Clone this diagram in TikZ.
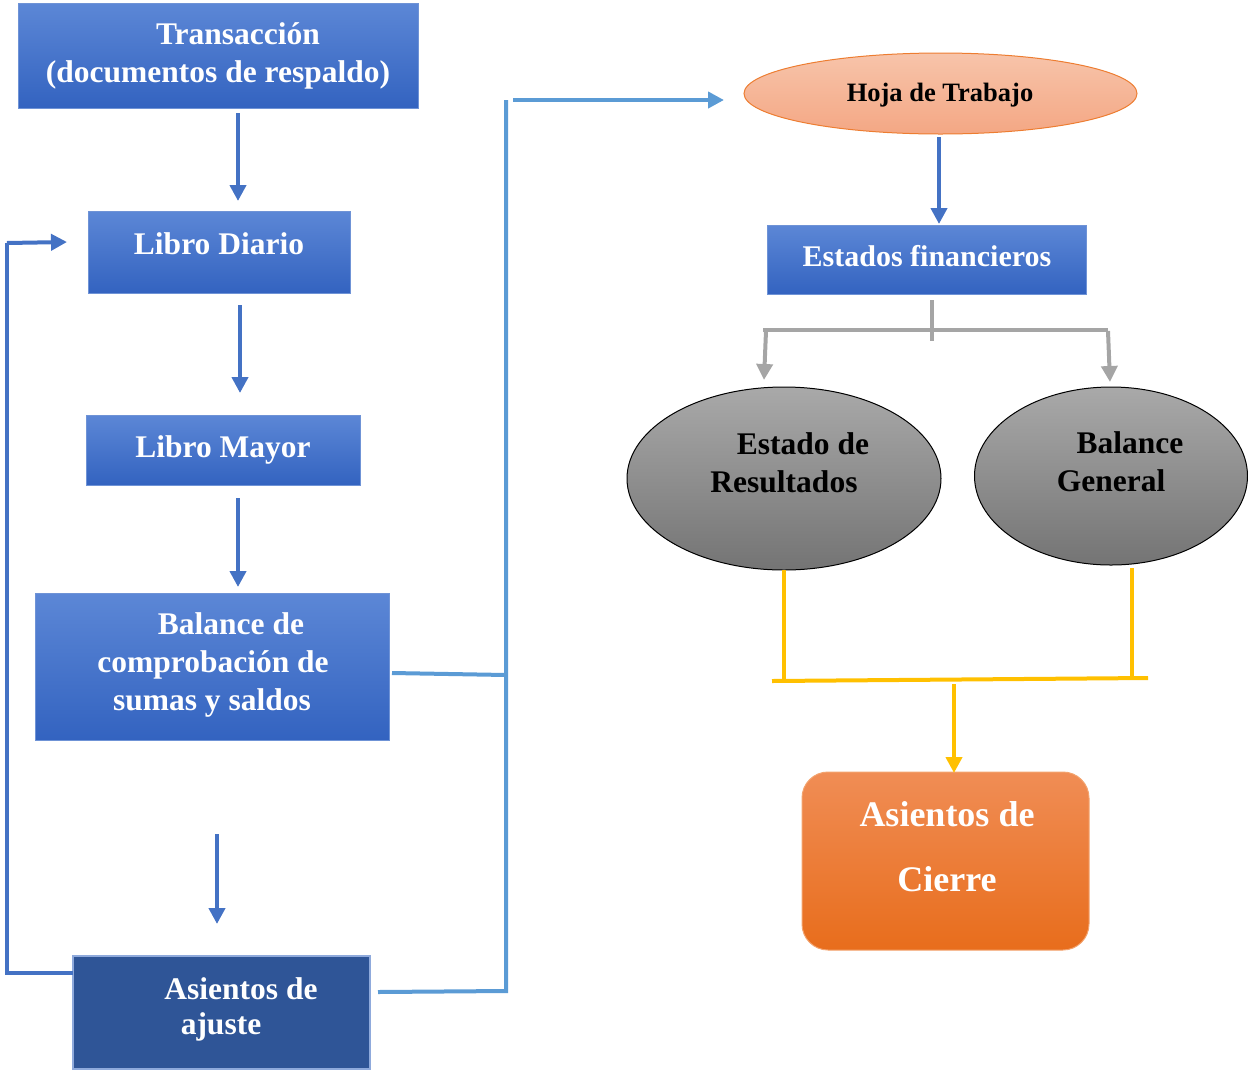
\documentclass[tikz,border=0pt]{standalone}
\usepackage{fontspec}
\setmainfont{Liberation Serif}
\usetikzlibrary{arrows.meta,shapes.geometric}
\definecolor{bxtop}{HTML}{5C87D6}
\definecolor{bxbot}{HTML}{3363C0}
\definecolor{bxline}{HTML}{6F93D6}
\definecolor{darkbx}{HTML}{2F5597}
\definecolor{darkline}{HTML}{8FAADC}
\definecolor{arrblue}{HTML}{4472C4}
\definecolor{ltblue}{HTML}{5B9BD5}
\definecolor{grayln}{HTML}{A5A5A5}
\definecolor{yellowln}{HTML}{FFC000}
\definecolor{elltop}{HTML}{A9A9A9}
\definecolor{ellbot}{HTML}{747474}
\definecolor{hojatop}{HTML}{F7C4AA}
\definecolor{hojabot}{HTML}{F4A784}
\definecolor{hojaline}{HTML}{ED7D31}
\definecolor{ciertop}{HTML}{F08D55}
\definecolor{cierbot}{HTML}{E86D1C}
\definecolor{cierline}{HTML}{F3A36E}
\tikzset{
  bluebox/.style={rectangle,inner sep=0,outer sep=0,top color=bxtop,bottom color=bxbot,draw=bxline,line width=1pt},
  darkbox/.style={rectangle,inner sep=0,outer sep=0,fill=darkbx,draw=darkline,line width=1.5pt},
  grayell/.style={ellipse,inner sep=0,outer sep=0,top color=elltop,bottom color=ellbot,draw=black,line width=1pt},
  hojaell/.style={ellipse,inner sep=0,outer sep=0,top color=hojatop,bottom color=hojabot,draw=hojaline,line width=1pt},
  cierbox/.style={rectangle,rounded corners=26pt,inner sep=0,outer sep=0,top color=ciertop,bottom color=cierbot,draw=cierline,line width=1pt},
  wtxt/.style={anchor=base,inner sep=0,text=white,font=\fontsize{31.5}{38}\selectfont\bfseries},
  ktxt/.style={anchor=base,inner sep=0,text=black,font=\fontsize{31.5}{38}\selectfont\bfseries},
  tip/.style={-{Triangle[width=16pt,length=16pt]}},
  barrow/.style={draw=arrblue,line width=4pt,tip},
  bline/.style={draw=arrblue,line width=4pt},
  lbline/.style={draw=ltblue,line width=4pt},
  lbarrow/.style={draw=ltblue,line width=4pt,tip},
  gline/.style={draw=grayln,line width=4pt},
  garrow/.style={draw=grayln,line width=4pt,tip},
  yline/.style={draw=yellowln,line width=4pt},
  yarrow/.style={draw=yellowln,line width=4pt,tip}
}
\begin{document}
\begin{tikzpicture}[x=1pt,y=-1pt]
\useasboundingbox (0,0) rectangle (1248,1072);
% boxes
\node[bluebox,minimum width=400pt,minimum height=105pt] (tr) at (218,55.5) {};
\node[bluebox,minimum width=262pt,minimum height=82pt] (ld) at (219,252) {};
\node[bluebox,minimum width=274pt,minimum height=70pt] (lm) at (223,450) {};
\node[bluebox,minimum width=354pt,minimum height=147pt] (bc) at (212,666.5) {};
\node[darkbox,minimum width=297pt,minimum height=113pt] (aj) at (221.5,1012.5) {};
\node[hojaell,minimum width=393pt,minimum height=81pt] (hj) at (940.5,93.5) {};
\node[bluebox,minimum width=319pt,minimum height=69pt] (ef) at (926.5,259.5) {};
\node[grayell,minimum width=314pt,minimum height=183pt] (er) at (784,478.5) {};
\node[grayell,minimum width=273pt,minimum height=178pt] (bg) at (1111,476) {};
\node[cierbox,minimum width=287pt,minimum height=178pt] (ac) at (945.5,861) {};
% texts
\node[wtxt] (t1) at (238,44) {Transacción};
\node[wtxt] (t2) at (218,82) {(documentos de respaldo)};
\node[wtxt] (t3) at (219,254) {Libro Diario};
\node[wtxt] (t4) at (223,457) {Libro Mayor};
\node[wtxt] (t5) at (231,634) {Balance de};
\node[wtxt] (t6) at (213,672) {comprobación de};
\node[wtxt] (t7) at (212,710) {sumas y saldos};
\node[wtxt] (t8) at (241,999) {Asientos de};
\node[wtxt] (t9) at (221,1034) {ajuste};
\node[ktxt,font=\fontsize{26.5}{30}\selectfont\bfseries] (t10) at (940,101) {Hoja de Trabajo};
\node[wtxt,font=\fontsize{30}{36}\selectfont\bfseries] (t11) at (927,266) {Estados financieros};
\node[ktxt] (t12) at (803,454) {Estado de};
\node[ktxt] (t13) at (784,492) {Resultados};
\node[ktxt] (t14) at (1130,453) {Balance};
\node[ktxt] (t15) at (1111,491) {General};
\node[wtxt,font=\fontsize{36}{40}\selectfont\bfseries] (t16) at (947,826) {Asientos de};
\node[wtxt,font=\fontsize{36}{40}\selectfont\bfseries] (t17) at (947,891) {Cierre};
% coordinates
\coordinate (c1a) at (238,113); \coordinate (c1b) at (238,201);
\coordinate (c2a) at (240,305); \coordinate (c2b) at (240,393);
\coordinate (c3a) at (238,498); \coordinate (c3b) at (238,587);
\coordinate (c4a) at (217,834); \coordinate (c4b) at (217,924);
\coordinate (fbA) at (7,973); \coordinate (fbB) at (7,243); \coordinate (fbC) at (67,242);
\coordinate (rbA) at (392,673); \coordinate (rbB) at (506,675);
\coordinate (rvT) at (506,100); \coordinate (rvB) at (506,991);
\coordinate (raA) at (378,992);
\coordinate (haA) at (513,100); \coordinate (haB) at (724,100);
\coordinate (c5a) at (939,137); \coordinate (c5b) at (939,224);
\coordinate (gL) at (763,330); \coordinate (gR) at (1108,330);
\coordinate (gT) at (932,300); \coordinate (gTb) at (932,341);
\coordinate (gla) at (766,331); \coordinate (glb) at (764,380);
\coordinate (gra) at (1108,331); \coordinate (grb) at (1110,382);
\coordinate (yla) at (784,570); \coordinate (ylb) at (784,681);
\coordinate (yra) at (1132,568); \coordinate (yrb) at (1132,679);
\coordinate (yhL) at (772,681); \coordinate (yhR) at (1148,678);
\coordinate (yaa) at (954,684); \coordinate (yab) at (954,773);
% connectors
\draw[barrow] (c1a) -- (c1b);
\draw[barrow] (c2a) -- (c2b);
\draw[barrow] (c3a) -- (c3b);
\draw[barrow] (c4a) -- (c4b);
\draw[bline] (aj.west |- fbA) -- (fbA) -- (fbB);
\draw[barrow] (fbB) -- (fbC);
\draw[lbline] (rbA) -- (rbB);
\draw[lbline] (rvT) -- (rvB) -- (raA);
\draw[lbarrow] (haA) -- (haB);
\draw[barrow] (c5a) -- (c5b);
\draw[gline] (gL) -- (gR);
\draw[gline] (gT) -- (gTb);
\draw[garrow] (gla) -- (glb);
\draw[garrow] (gra) -- (grb);
\draw[yline] (yla) -- (ylb);
\draw[yline] (yra) -- (yrb);
\draw[yline] (yhL) -- (yhR);
\draw[yarrow] (yaa) -- (yab);
\end{tikzpicture}
\end{document}
